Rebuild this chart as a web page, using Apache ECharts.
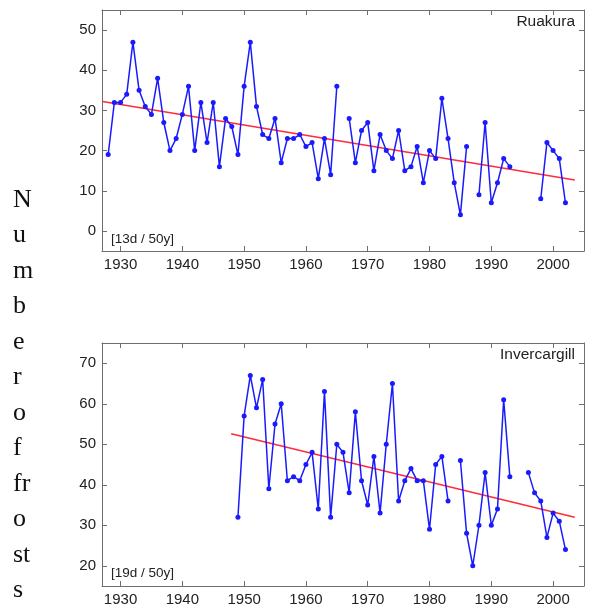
<!DOCTYPE html>
<html>
<head>
<meta charset="utf-8">
<script src="https://cdn.jsdelivr.net/npm/echarts@6/dist/echarts.min.js"></script>
<style>
  html, body { margin: 0; padding: 0; background: #ffffff; }
  #chart { width: 589px; height: 608px; }
</style>
</head>
<body>
<div id="chart"></div>
<script>
// Annual frost counts at two New Zealand stations, with linear trends.
const years = [];
for (let y = 1928; y <= 2002; y++) years.push(y);

// Ruakura, 1928-2002 (null = no record)
const ruakura = [
  19, 32, 32, 34, 47, 35, 31, 29, 38, 27,
  20, 23, 29, 36, 20, 32, 22, 32, 16, 28,
  26, 19, 36, 47, 31, 24, 23, 28, 17, 23,
  23, 24, 21, 22, 13, 23, 14, 36, null, 28,
  17, 25, 27, 15, 24, 20, 18, 25, 15, 16,
  21, 12, 20, 18, 33, 23, 12, 4, 21, null,
  9, 27, 7, 12, 18, 16, null, null, null, null,
  8, 22, 20, 18, 7
];

// Invercargill, 1928-2002 (record starts 1949)
const invercargill = [
  null, null, null, null, null, null, null, null, null, null,
  null, null, null, null, null, null, null, null, null, null,
  null, 32, 57, 67, 59, 66, 39, 55, 60, 41,
  42, 41, 45, 48, 34, 63, 32, 50, 48, 38,
  58, 41, 35, 47, 33, 50, 65, 36, 41, 44,
  41, 41, 29, 45, 47, 36, null, 46, 28, 20,
  30, 43, 30, 34, 61, 42, null, null, 43, 38,
  36, 27, 33, 31, 24
];

// Fitted trend lines: [year, frosts] at each end
const ruakuraTrend = [[1927.1, 32.2], [2003.5, 12.7]];
const invercargillTrend = [[1947.9, 52.6], [2003.5, 32.0]];

const yearTicks = [1930, 1940, 1950, 1960, 1970, 1980, 1990, 2000];
const ruakuraTicks = [0, 10, 20, 30, 40, 50];
const invercargillTicks = [20, 30, 40, 50, 60, 70];

const stationNames = ['Ruakura', 'Invercargill'];
const trendLabels = ['[13d / 50y]', '[19d / 50y]'];
const yLabelLines = ['N', 'u', 'm', 'b', 'e', 'r', 'o', 'f', 'fr', 'o', 'st', 's'];

const pairs = vals => years.map((y, i) => [y, vals[i]]);

const AXIS_COLOR = '#6e6e6e';
const LABEL_COLOR = '#222222';
const FONT = 'Liberation Sans, Arial, Helvetica, sans-serif';
const plain = v => String(v);

function makeX(grid, pos, showLabels) {
  return {
    type: 'value', gridIndex: grid, position: pos,
    min: 1927, max: 2005,
    axisLine: { show: true, onZero: false, lineStyle: { color: AXIS_COLOR, width: 1 } },
    axisTick: { show: true, inside: true, length: 5, customValues: yearTicks,
                lineStyle: { color: AXIS_COLOR } },
    axisLabel: { show: showLabels, customValues: yearTicks, margin: 6, formatter: plain,
                 color: LABEL_COLOR, fontSize: 15, fontFamily: FONT },
    splitLine: { show: false }
  };
}
function makeY(grid, pos, min, max, ticks, showLabels) {
  return {
    type: 'value', gridIndex: grid, position: pos,
    min: min, max: max,
    axisLine: { show: true, onZero: false, lineStyle: { color: AXIS_COLOR, width: 1 } },
    axisTick: { show: true, inside: true, length: 5, customValues: ticks,
                lineStyle: { color: AXIS_COLOR } },
    axisLabel: { show: showLabels, customValues: ticks, margin: 6, formatter: plain,
                 color: LABEL_COLOR, fontSize: 15, fontFamily: FONT },
    splitLine: { show: false }
  };
}

function dataSeries(xi, yi, vals) {
  return {
    type: 'line', xAxisIndex: xi, yAxisIndex: yi,
    data: pairs(vals), connectNulls: false,
    symbol: 'circle', symbolSize: 5, showSymbol: true,
    lineStyle: { color: '#1a1aff', width: 1.5 },
    itemStyle: { color: '#1a1aff' },
    z: 3, animation: false
  };
}
function trendSeries(xi, yi, pts) {
  return {
    type: 'line', xAxisIndex: xi, yAxisIndex: yi,
    data: pts, symbol: 'none',
    lineStyle: { color: '#ff2a3a', width: 1.5 },
    z: 2, animation: false
  };
}

const chart = echarts.init(document.getElementById('chart'), null, { renderer: 'canvas' });
chart.setOption({
  backgroundColor: '#ffffff',
  animation: false,
  grid: [
    { left: 102, top: 10, width: 482, height: 241 },
    { left: 102, top: 343, width: 482, height: 243 }
  ],
  xAxis: [
    makeX(0, 'bottom', true), makeX(0, 'top', false),
    makeX(1, 'bottom', true), makeX(1, 'top', false)
  ],
  yAxis: [
    makeY(0, 'left', -5, 55, ruakuraTicks, true), makeY(0, 'right', -5, 55, ruakuraTicks, false),
    makeY(1, 'left', 15, 75, invercargillTicks, true), makeY(1, 'right', 15, 75, invercargillTicks, false)
  ],
  series: [
    trendSeries(0, 0, ruakuraTrend),
    dataSeries(0, 0, ruakura),
    trendSeries(2, 2, invercargillTrend),
    dataSeries(2, 2, invercargill)
  ],
  graphic: [
    { type: 'text', right: 14, top: 14, z: 10,
      style: { text: stationNames[0], font: '15.5px ' + FONT, fill: LABEL_COLOR } },
    { type: 'text', right: 14, top: 347, z: 10,
      style: { text: stationNames[1], font: '15.5px ' + FONT, fill: LABEL_COLOR } },
    { type: 'text', left: 111, top: 232, z: 10,
      style: { text: trendLabels[0], font: '13.5px ' + FONT, fill: LABEL_COLOR } },
    { type: 'text', left: 111, top: 566, z: 10,
      style: { text: trendLabels[1], font: '13.5px ' + FONT, fill: LABEL_COLOR } },
    { type: 'text', left: 13, top: 182, z: 10,
      style: { text: yLabelLines.join('\n'), font: '26px Liberation Serif, Times New Roman, serif',
               lineHeight: 35.5, fill: '#111111' } }
  ]
});
</script>
</body>
</html>
